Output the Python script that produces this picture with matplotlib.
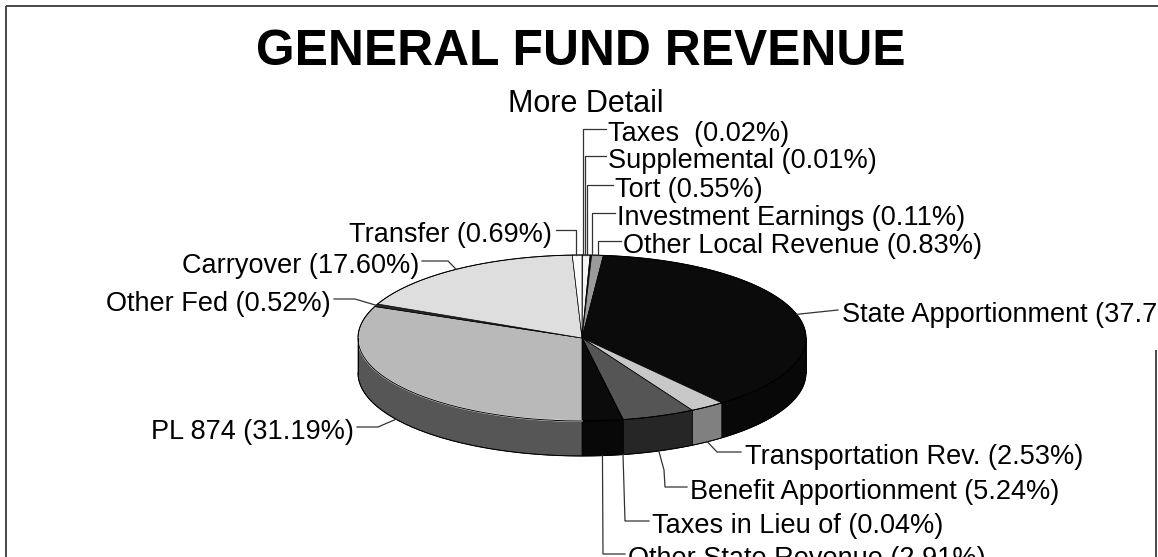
import numpy as np
import matplotlib
matplotlib.use("Agg")
import matplotlib.pyplot as plt
from matplotlib.patches import Polygon

# ---------------- data ----------------
categories = ["Taxes ", "Supplemental", "Tort", "Investment Earnings", "Other Local Revenue",
              "State Apportionment", "Transportation Rev.", "Benefit Apportionment",
              "Taxes in Lieu of", "Other State Revenue", "PL 874", "Other Fed",
              "Carryover", "Transfer"]
percents = [0.02, 0.01, 0.55, 0.11, 0.83, 37.76, 2.53, 5.24, 0.04, 2.91, 31.19, 0.52, 17.60, 0.69]
title = "GENERAL FUND REVENUE"
subtitle = "More Detail"

# ---------------- styles ----------------
top_colors = ["#111111", "#111111", "#f4f4f4", "#111111", "#9a9a9a",
              "#0b0b0b", "#c8c8c8", "#555555", "#111111", "#0b0b0b",
              "#b9b9b9", "#2a2a2a", "#dedede", "#fbfbfb"]
side_colors = ["#111111", "#111111", "#cfcfcf", "#111111", "#707070",
               "#080808", "#808080", "#262626", "#111111", "#080808",
               "#565656", "#202020", "#a0a0a0", "#d0d0d0"]
rim_colors = [None] * 10 + ["white", None, None, None]

# ---------------- layout (pixels) ----------------
W, H = 1158, 557
cx, cy, rx, ry, depth = 582, 338, 224, 83, 35
FONT = "Liberation Sans"
LABEL_SIZE = 19.5

# label layout: kind, leader y, text x, ha, extra elbow points, x-offset for "up" leaders
label_layout = [
    ("up", 129, 608, "left", [], 1.0),
    ("up", 156, 608, "left", [], 2.5),
    ("up", 185, 615, "left", [], 0.5),
    ("up", 213, 617, "left", [], 0.8),
    ("up", 241, 623, "left", [], 0.5),
    ("rim", 310, 842, "left", [(838, 310)], 0),
    ("side", 452, 745, "left", [(717, 452), (741, 452)], 0),
    ("side", 487, 690, "left", [(664, 470), (665, 487), (687, 487)], 0),
    ("side", 521, 652, "left", [(625, 521), (649, 521)], 0),
    ("side", 554, 628, "left", [(603, 554), (625, 554)], 0),
    ("side", 427, 354, "right", [(378, 427), (357, 427)], 0),
    ("rim", 299, 331, "right", [(355, 299), (334, 299)], 0),
    ("rim", 261, 419, "right", [(448, 261), (422, 261)], 0),
    ("up", 230, 552, "right", [], -1.5),
]

fig = plt.figure(figsize=(W / 100, H / 100), dpi=100)
ax = fig.add_axes([0, 0, 1, 1])
ax.set_xlim(0, W)
ax.set_ylim(H, 0)
ax.axis("off")

# frame
frame_kw = dict(color="#3a3a3a", lw=1.3, solid_capstyle="butt")
ax.plot([6, 6], [H, 6], **frame_kw)
ax.plot([6, W], [6, 6], **frame_kw)
ax.plot([1156, 1156], [350, H], **frame_kw)

# titles
ax.text(581, 65, title, ha="center", va="baseline", fontsize=35.8,
        fontweight="bold", family=FONT, color="black")
ax.text(586, 112, subtitle, ha="center", va="baseline", fontsize=22,
        family=FONT, color="black")

# ---------------- pie geometry ----------------
frac = np.array(percents) / np.sum(percents)
bounds = 90 - 360 * np.concatenate([[0], np.cumsum(frac)])
starts, ends = bounds[:-1], bounds[1:]
mids = (starts + ends) / 2


def ell(t, dz=0.0):
    r = np.radians(t)
    return cx + rx * np.cos(r), cy - ry * np.sin(r) + dz


# sides (front half only: angles between -180 and 0)
for i in range(len(percents)):
    lo, hi = max(ends[i], -180), min(starts[i], 0)
    if hi <= lo:
        continue
    ts = np.linspace(hi, lo, 80)
    xt, yt = ell(ts)
    xb, yb = ell(ts[::-1], depth)
    poly = np.column_stack([np.concatenate([xt, xb]), np.concatenate([yt, yb])])
    ax.add_patch(Polygon(poly, closed=True, facecolor=side_colors[i],
                         edgecolor="black", lw=0.5, zorder=2))

# tops
for i in range(len(percents)):
    n = max(3, int(abs(starts[i] - ends[i]) * 2))
    ts = np.linspace(starts[i], ends[i], n)
    xa, ya = ell(ts)
    poly = np.column_stack([np.concatenate([[cx], xa]), np.concatenate([[cy], ya])])
    ax.add_patch(Polygon(poly, closed=True, facecolor=top_colors[i],
                         edgecolor="black", lw=0.5, zorder=3))
    if rim_colors[i]:
        lo, hi = max(ends[i], -180), min(starts[i], 0)
        if hi > lo:
            tr = np.linspace(hi, lo, 80)
            xr, yr = ell(tr)
            ax.plot(xr, yr, color=rim_colors[i], lw=1.2, zorder=4)

# overall outline
tt = np.linspace(0, 360, 400)
xo, yo = ell(tt)
ax.plot(xo, yo, color="black", lw=0.7, zorder=4)
tf = np.linspace(-180, 0, 200)
xf, yf = ell(tf, depth)
ax.plot(xf, yf, color="black", lw=0.7, zorder=4)
for t in (-180, 0):
    xa, ya = ell(t)
    ax.plot([xa, xa], [ya, ya + depth], color="black", lw=0.7, zorder=4)

# ---------------- labels & leaders ----------------
lead_kw = dict(color="#333333", lw=0.9, zorder=5)
for i, (kind, ly, tx, ha, elbows, dx) in enumerate(label_layout):
    m = mids[i]
    if kind == "up":
        axx, ayy = ell(m)
        axx = axx + dx
        endx = tx - 2 if ha == "left" else tx + 4
        pts = [(axx, ayy), (axx, ly), (endx, ly)]
    elif kind == "rim":
        pts = [ell(m)] + elbows
    else:
        pts = [ell(m, depth)] + elbows
    px, py = zip(*pts)
    ax.plot(px, py, **lead_kw)
    label = f"{categories[i]} ({percents[i]:.2f}%)"
    ax.text(tx, ly + 12, label, ha=ha, va="baseline", fontsize=LABEL_SIZE,
            family=FONT, color="black", zorder=6)

fig.savefig("out.png", dpi=100)
